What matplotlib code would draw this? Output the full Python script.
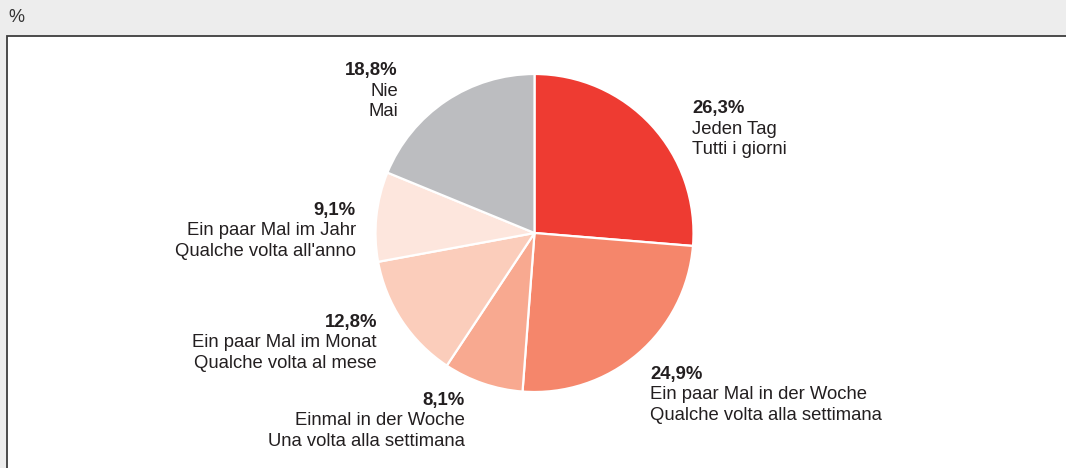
import matplotlib
matplotlib.use("Agg")
import matplotlib.pyplot as plt
from matplotlib.patches import Rectangle

plt.rcParams['font.family'] = ['Liberation Sans', 'DejaVu Sans']

# data
shares = [26.3, 24.9, 8.1, 12.8, 9.1, 18.8]
labels_de = ["Jeden Tag", "Ein paar Mal in der Woche", "Einmal in der Woche",
             "Ein paar Mal im Monat", "Ein paar Mal im Jahr", "Nie"]
labels_it = ["Tutti i giorni", "Qualche volta alla settimana", "Una volta alla settimana",
             "Qualche volta al mese", "Qualche volta all'anno", "Mai"]
colors = ["#ee3b32", "#f5866b", "#f8a990", "#fbcdbb", "#fde6dd", "#bcbdc0"]

# label anchor (pixels from top-left) and alignment
label_pos = [(692, 109, 'left'), (650, 374, 'left'), (465, 400, 'right'),
             (377, 322, 'right'), (356, 210, 'right'), (398, 71, 'right')]

W, H = 1066, 468
fig = plt.figure(figsize=(W / 100, H / 100), dpi=100)
fig.patch.set_facecolor("#ededed")

# white panel with dark frame
frame = Rectangle((6.5 / W, 0 - 0.1), 1.2, (H - 36.5) / H + 0.1, transform=fig.transFigure,
                  facecolor="white", edgecolor="#3d3d3d", linewidth=1.3, zorder=-5)
fig.patches.append(frame)
fig.text(8 / W, 1 - 17 / H, "%", fontsize=13, color="#333333", va='center', ha='left')

cx, cy, r = 534.5, 233, 159 * 1.02
ax = fig.add_axes([(cx - r) / W, (H - cy - r) / H, 2 * r / W, 2 * r / H])
ax.set_zorder(2)
ax.patch.set_visible(False)
ax.pie(shares, colors=colors, startangle=90, counterclock=False, radius=1,
       wedgeprops=dict(edgecolor="white", linewidth=1.6))
ax.set_xlim(-1.02, 1.02)
ax.set_ylim(-1.02, 1.02)
ax.set_aspect('equal')
ax.axis('off')

txt_col = "#231f20"
fs = 13.3
for v, de, it, (x, y, ha) in zip(shares, labels_de, labels_it, label_pos):
    pct = f"{v:.1f}%".replace(".", ",")
    for i, (s, w) in enumerate([(pct, 'bold'), (de, 'normal'), (it, 'normal')]):
        fig.text(x / W, 1 - (y + i * 20.5) / H, s, fontsize=fs, fontweight=w,
                 color=txt_col, ha=ha, va='center')

fig.savefig("out.png", dpi=100, facecolor=fig.get_facecolor())
